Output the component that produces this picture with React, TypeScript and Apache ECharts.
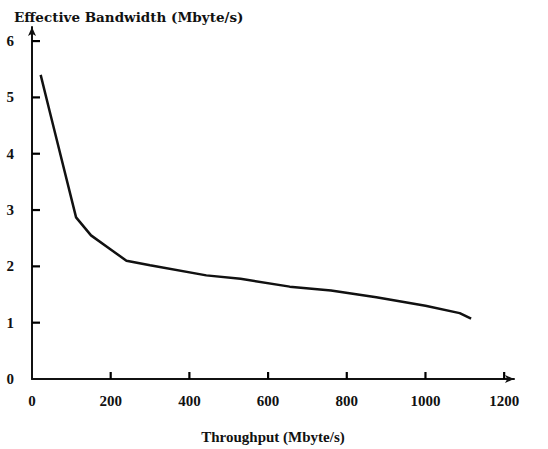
import React, { useEffect, useRef } from "react";
import * as echarts from "echarts";

const throughput = [22, 45, 112, 150, 200, 240, 300, 443, 530, 655, 760, 875, 1000, 1087, 1116];
const bandwidth = [5.4, 4.75, 2.87, 2.55, 2.3, 2.1, 2.02, 1.84, 1.78, 1.64, 1.57, 1.45, 1.3, 1.17, 1.07];
const xTicks = [0, 200, 400, 600, 800, 1000, 1200];
const yTicks = [0, 1, 2, 3, 4, 5, 6];

const FONT = "'Liberation Serif', 'DejaVu Serif', serif";
const WIDE = "'DejaVu Serif', serif";

export default function App() {
  const ref = useRef<HTMLDivElement>(null);
  useEffect(() => {
    if (!ref.current) return;
    const chart = echarts.init(ref.current, undefined, { renderer: "svg" });
    chart.setOption({
      animation: false,
      backgroundColor: "#ffffff",
      title: {
        text: "Effective Bandwidth (Mbyte/s)",
        left: 9,
        top: 5,
        textStyle: { fontFamily: WIDE, fontWeight: "bold", fontSize: 13.5, color: "#111" },
      },
      grid: { left: 32, right: 34, top: 27, bottom: 62 },
      xAxis: {
        type: "value",
        min: 0,
        max: 1225,
        interval: 200,
        name: "Throughput (Mbyte/s)",
        nameLocation: "middle",
        nameGap: 50,
        nameTextStyle: { fontFamily: FONT, fontWeight: "bold", fontSize: 15, color: "#111" },
        axisLine: {
          show: true,
          lineStyle: { color: "#111", width: 2 },
          symbol: ["none", "arrow"],
          symbolSize: [6, 9],
        },
        axisTick: { show: false },
        axisLabel: {
          showMaxLabel: false,
          formatter: (v: number) => (xTicks.includes(v) ? String(v) : ""),
          margin: 14,
          fontFamily: FONT,
          fontWeight: "bold",
          fontSize: 15,
          color: "#111",
        },
        splitLine: { show: false },
      },
      yAxis: {
        type: "value",
        min: 0,
        max: 6.25,
        interval: 1,
        axisLine: {
          show: true,
          lineStyle: { color: "#111", width: 2 },
          symbol: ["none", "arrow"],
          symbolSize: [6, 9],
        },
        axisTick: { show: false },
        axisLabel: {
          showMaxLabel: false,
          formatter: (v: number) => (yTicks.includes(v) ? String(v) : ""),
          margin: 18,
          fontFamily: FONT,
          fontWeight: "bold",
          fontSize: 15,
          color: "#111",
        },
        splitLine: { show: false },
      },
      series: [
        {
          type: "line",
          data: throughput.map((x, i) => [x, bandwidth[i]]),
          showSymbol: false,
          symbol: "none",
          lineStyle: { color: "#111", width: 2.5 },
          z: 3,
        },
      ],
    });
    const ticks: any[] = [];
    xTicks.slice(1).forEach((v) => {
      const p = chart.convertToPixel({ gridIndex: 0 }, [v, 0]) as number[];
      ticks.push({
        type: "line",
        shape: { x1: p[0], y1: p[1], x2: p[0], y2: p[1] - 7 },
        style: { stroke: "#000", lineWidth: 2.2 },
        z: 100,
      });
    });
    yTicks.slice(1).forEach((v) => {
      const p = chart.convertToPixel({ gridIndex: 0 }, [0, v]) as number[];
      ticks.push({
        type: "line",
        shape: { x1: p[0], y1: p[1], x2: p[0] + 8, y2: p[1] },
        style: { stroke: "#000", lineWidth: 2.2 },
        z: 100,
      });
    });
    chart.setOption({ graphic: { elements: ticks } });
    return () => chart.dispose();
  }, []);
  return (
    <div
      ref={ref}
      style={{ position: "absolute", left: 0, top: 0, width: 548, height: 449, background: "#fff" }}
    />
  );
}
